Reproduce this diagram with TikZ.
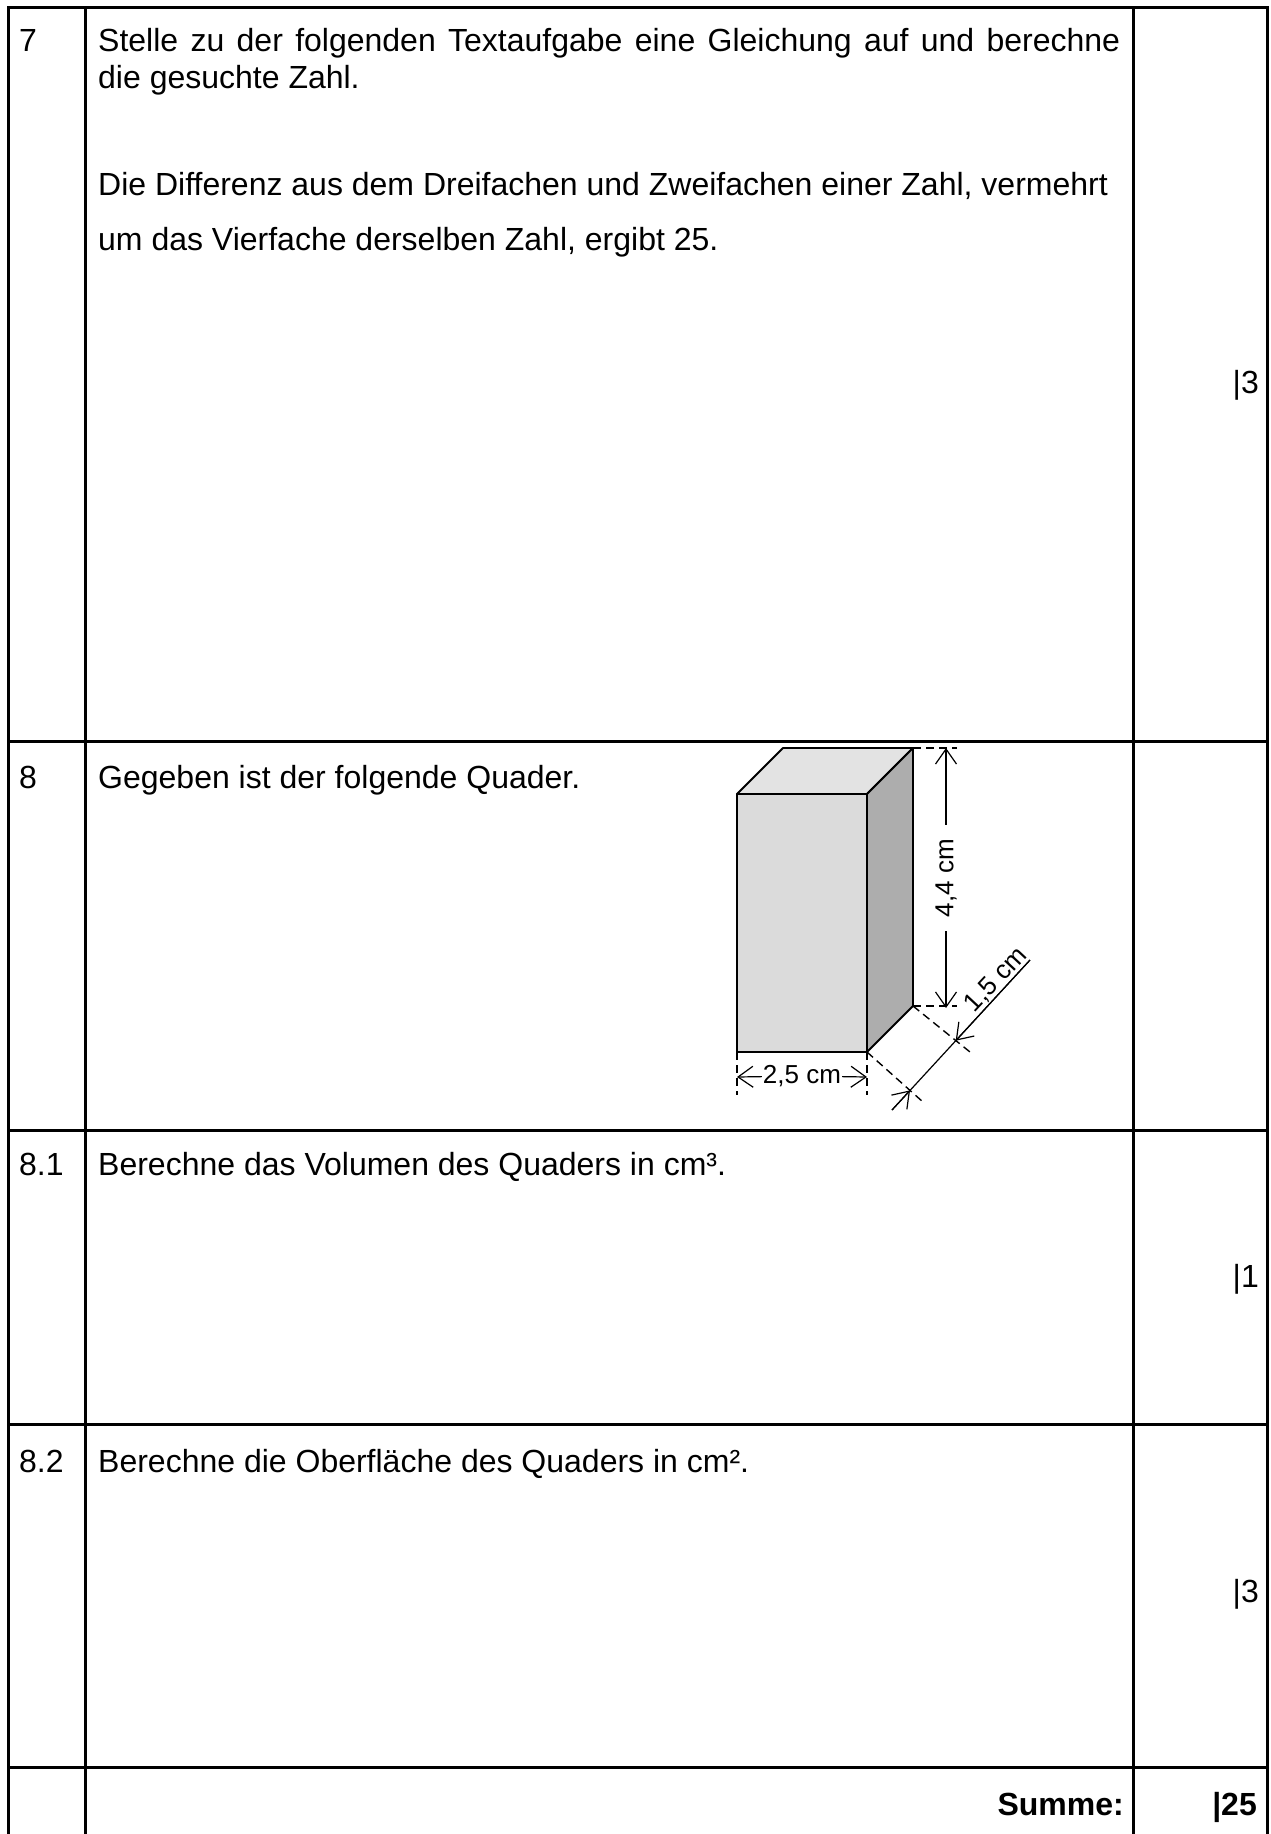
\documentclass[tikz,border=0pt]{standalone}
\usepackage{fontspec}
\setmainfont{Liberation Sans}
\usetikzlibrary{arrows.meta}

\definecolor{quaderfront}{gray}{0.86}
\definecolor{quadertop}{gray}{0.89}
\definecolor{quaderside}{gray}{0.68}

\begin{document}
\begin{tikzpicture}[x=1pt,y=-1pt,
    font=\fontsize{32}{36.8}\selectfont,
    rule/.style={line width=3pt,line cap=rect},
    txt/.style={anchor=base west,inner sep=0pt},
    pts/.style={anchor=base east,inner sep=0pt},
    edge line/.style={line width=1.9pt,line join=round},
    extline/.style={line width=1.4pt,dash pattern=on 8pt off 5pt},
    dimline/.style={line width=1.2pt,-{Straight Barb[length=15pt,width=21pt]}},
    dimlabel/.style={font=\fontsize{26}{30}\selectfont,inner sep=2pt}]

\useasboundingbox (0,0) rectangle (1271,1834);

% table
\foreach \y in {7,741,1130,1424,1767}
  \draw[rule] (8,\y) -- (1267,\y);
\foreach \x in {8,85,1133,1267}
  \draw[rule] (\x,7) -- (\x,1840);

% task 7
\node[txt] (n7) at (19,51.7) {7};
\node[txt,text width=1022pt,align=justify] (a7) at (98,51.7)
  {Stelle zu der folgenden Textaufgabe eine Gleichung auf und berechne\linebreak die gesuchte Zahl.};
\node[txt,text width=1022pt,align=justify,font=\fontsize{32}{55.2}\selectfont] (b7) at (98,195)
  {Die Differenz aus dem Dreifachen und Zweifachen einer Zahl, vermehrt\newline um das Vierfache derselben Zahl, ergibt 25.};
\node[pts] (p7) at (1259,393) {|3};

% task 8
\node[txt] (n8) at (19,788) {8};
\node[txt] (a8) at (98,788) {Gegeben ist der folgende Quader.};

% cuboid
\coordinate (A) at (737,1052);
\coordinate (B) at (867,1052);
\coordinate (C) at (867,794);
\coordinate (D) at (737,794);
\coordinate (E) at (783,748);
\coordinate (F) at (913,748);
\coordinate (G) at (913,1006);
\filldraw[edge line,fill=quadertop] (D) -- (E) -- (F) -- (C) -- cycle;
\filldraw[edge line,fill=quaderside] (C) -- (F) -- (G) -- (B) -- cycle;
\filldraw[edge line,fill=quaderfront] (A) -- (B) -- (C) -- (D) -- cycle;

% height
\coordinate (Fx) at (957,748);
\coordinate (Gx) at (957,1006);
\coordinate (h1) at (946,748);
\coordinate (h2) at (946,1008);
\draw[extline] (F) -- (Fx);
\draw[extline] (G) -- (Gx);
\node[dimlabel,rotate=90,inner xsep=14pt] (hoehe) at (946,878) {4,4 cm};
\draw[dimline] (hoehe) -- (h1);
\draw[dimline] (hoehe) -- (h2);

% width
\coordinate (Ax) at (737,1095);
\coordinate (Bx) at (867,1095);
\coordinate (w1) at (737,1077);
\coordinate (w2) at (867,1077);
\draw[extline] (A) -- (Ax);
\draw[extline] (B) -- (Bx);
\node[dimlabel,inner sep=1pt] (breite) at (802,1076) {2,5 cm};
\draw[dimline] (breite) -- (w1);
\draw[dimline] (breite) -- (w2);

% depth
\coordinate (Gt) at (970,1052);
\coordinate (Bt) at (923,1102);
\coordinate (d0) at (892,1110);
\coordinate (d1) at (910,1090.4);
\coordinate (d2) at (955.7,1040.7);
\coordinate (d3) at (1030,960);
\draw[extline] (G) -- (Gt);
\draw[extline] (B) -- (Bt);
\draw[line width=1.2pt] (d0) -- (d3);
\draw[dimline] (d0) -- (d1);
\draw[dimline] (d3) -- (d2);
\node[dimlabel,rotate=47] (tiefe) at (996,980) {1,5 cm};

% task 8.1
\node[txt] (n81) at (19,1175) {8.1};
\node[txt] (a81) at (98,1175) {Berechne das Volumen des Quaders in cm³.};
\node[pts] (p81) at (1259,1287) {|1};

% task 8.2
\node[txt] (n82) at (19,1472) {8.2};
\node[txt] (a82) at (98,1472) {Berechne die Oberfläche des Quaders in cm².};
\node[pts] (p82) at (1259,1602) {|3};

% sum
\node[pts,font=\fontsize{32}{36.8}\selectfont\bfseries] (summe) at (1124,1815) {Summe:};
\node[pts,font=\fontsize{32}{36.8}\selectfont\bfseries] (gesamt) at (1257,1815) {|25};
\end{tikzpicture}
\end{document}
